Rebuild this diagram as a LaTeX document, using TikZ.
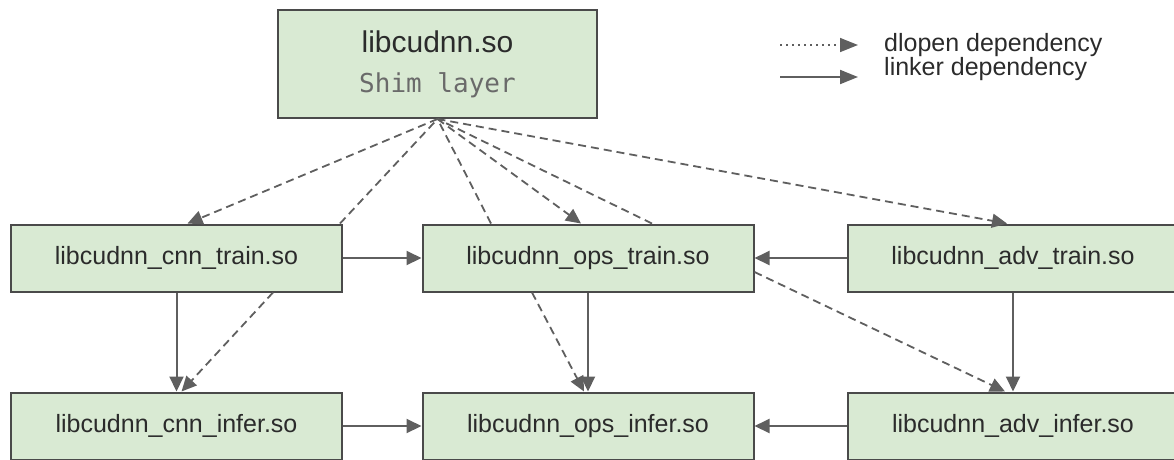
\documentclass[tikz,border=0pt]{standalone}
\usepackage{fontspec}
\setmainfont{Liberation Sans}
\setmonofont{DejaVu Sans Mono}
\usetikzlibrary{arrows.meta}
\definecolor{boxfill}{HTML}{D9EAD3}
\definecolor{boxline}{HTML}{4A4A4A}
\definecolor{linkcol}{HTML}{5F5F5F}
\definecolor{txtcol}{HTML}{2B2B2B}
\definecolor{monocol}{HTML}{6A6A6A}
\tikzset{
  lib/.style={draw=boxline, fill=boxfill, line width=2pt, inner sep=0pt,
    minimum width=331pt, minimum height=67pt, text=txtcol,
    font=\fontsize{25}{30}\selectfont},
  tip/.style={-{Triangle[length=15pt,width=14pt]}},
  link/.style={draw=linkcol, line width=2pt, tip},
  dlink/.style={draw=linkcol, line width=1.8pt, dash pattern=on 8pt off 5pt},
  dtip/.style={dlink, tip},
}
\begin{document}
\begin{tikzpicture}[x=1pt,y=-1pt]
\useasboundingbox (0,0) rectangle (1174,459);
% nodes
\node[lib, minimum width=319pt, minimum height=108pt, align=center] (shim) at (437.5,64)
  {\fontsize{30}{38}\selectfont libcudnn.so\\[10pt]{\ttfamily\color{monocol}\fontsize{26}{30}\selectfont Shim layer}};
\node[lib] (cnntrain) at (176.5,258) {libcudnn\_cnn\_train.so};
\node[lib] (opstrain) at (588,258) {libcudnn\_ops\_train.so};
\node[lib] (advtrain) at (1013,258) {libcudnn\_adv\_train.so};
\node[lib] (cnninfer) at (176.5,426) {libcudnn\_cnn\_infer.so};
\node[lib] (opsinfer) at (588,426) {libcudnn\_ops\_infer.so};
\node[lib] (advinfer) at (1013,426) {libcudnn\_adv\_infer.so};
% linker dependencies
\draw[link] (cnntrain.east) -- (opstrain.west);
\draw[link] (advtrain.west) -- (opstrain.east);
\draw[link] (cnninfer.east) -- (opsinfer.west);
\draw[link] (advinfer.west) -- (opsinfer.east);
\draw[link] (cnntrain.south) -- (cnninfer.north);
\draw[link] (opstrain.south) -- (opsinfer.north);
\draw[link] (advtrain.south) -- (advinfer.north);
% dlopen dependencies
\draw[dtip] ([xshift=-70pt]cnntrain.south east) -- ([xshift=5pt]cnninfer.north);
\draw[dtip] ([xshift=-56pt]opstrain.south) -- ([xshift=-4pt]opsinfer.north);
\draw[dtip] ([yshift=-14pt]opstrain.east) -- ([xshift=-8pt]advinfer.north);
\draw[dtip] (shim.south) -- ([xshift=11pt]cnntrain.north);
\draw[dlink] ([xshift=-3pt]cnntrain.north east) -- (shim.south);
\draw[dlink] ([xshift=-97pt]opstrain.north) -- (shim.south);
\draw[dtip] (shim.south) -- ([xshift=-7pt]opstrain.north);
\draw[dlink] ([xshift=64pt]opstrain.north) -- (shim.south);
\draw[dtip] (shim.south) -- ([xshift=-6pt]advtrain.north);
% legend
\coordinate (l1a) at (780,45);
\coordinate (l1b) at (858,45);
\coordinate (l2a) at (780,77);
\coordinate (l2b) at (858,77);
\draw[draw=linkcol, line width=1.5pt, dash pattern=on 2pt off 4pt, -{Triangle[length=18pt,width=14pt]}] (l1a) -- (l1b);
\draw[draw=linkcol, line width=2pt, -{Triangle[length=18pt,width=14pt]}] (l2a) -- (l2b);
\node[anchor=base west, inner sep=0pt, text=txtcol, font=\fontsize{25}{30}\selectfont] (leg1) at (884,51) {dlopen dependency};
\node[anchor=base west, inner sep=0pt, text=txtcol, font=\fontsize{25}{30}\selectfont] (leg2) at (884,75) {linker dependency};
\end{tikzpicture}
\end{document}
